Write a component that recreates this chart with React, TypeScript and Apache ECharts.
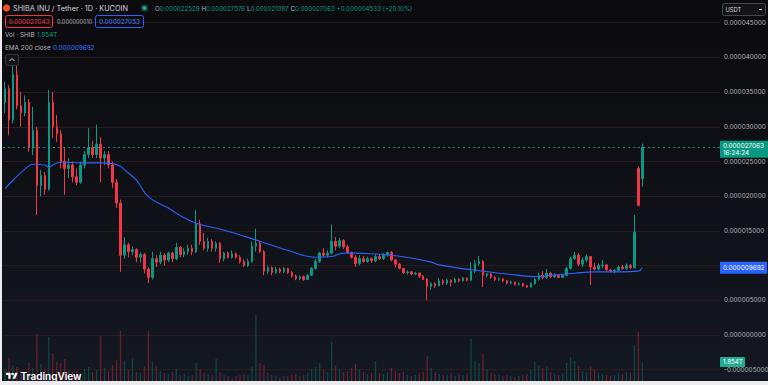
import React, { useEffect, useRef } from "react";
import * as echarts from "echarts";

// Prices are in micro-USDT (1e-6 USDT). Each candle: [open, close, low, high]
const candles: number[][] = [
  [33.5, 35.5, 32.0, 36.5], [35.5, 31.0, 28.8, 36.0], [31.0, 37.5, 30.5, 39.5], [37.5, 33.0, 32.5, 39.0],
  [33.0, 32.0, 30.0, 35.0], [32.0, 33.5, 31.5, 34.5], [33.5, 27.0, 26.4, 34.0], [27.0, 29.5, 25.9, 32.9],
  [29.5, 21.5, 17.3, 30.0], [21.5, 23.0, 20.0, 23.8], [23.0, 21.0, 20.2, 23.5], [21.0, 33.5, 20.8, 35.3],
  [33.5, 30.0, 28.4, 35.0], [30.0, 29.0, 27.8, 31.7], [29.0, 25.0, 24.0, 29.5], [25.0, 24.0, 20.2, 27.0],
  [24.0, 24.5, 22.6, 25.5], [24.5, 22.8, 22.0, 25.0], [22.8, 22.0, 21.6, 24.0], [22.0, 24.5, 21.8, 25.0],
  [24.5, 26.0, 24.0, 26.5], [26.0, 27.0, 25.5, 29.8], [27.0, 26.0, 25.5, 28.0], [26.0, 27.5, 25.5, 30.3],
  [27.5, 25.5, 22.0, 28.5], [25.5, 26.0, 24.5, 26.5], [26.0, 24.5, 24.0, 26.5], [24.5, 22.0, 21.2, 25.0],
  [22.0, 19.0, 18.3, 22.5], [19.0, 11.5, 9.1, 19.5], [11.5, 13.0, 11.0, 14.1], [13.0, 12.0, 11.2, 13.3],
  [12.0, 12.3, 11.5, 12.8], [12.3, 11.2, 10.5, 12.5], [11.2, 11.6, 10.4, 11.9], [11.6, 9.5, 8.9, 11.8],
  [9.5, 8.3, 7.5, 9.8], [8.3, 11.0, 8.0, 12.0], [11.0, 10.5, 9.8, 11.5], [10.5, 11.5, 10.2, 12.0],
  [11.5, 10.8, 10.0, 11.8], [10.8, 11.8, 10.5, 12.0], [11.8, 11.0, 10.5, 12.0], [11.0, 12.6, 10.8, 13.3],
  [12.6, 11.6, 11.2, 12.8], [11.6, 12.0, 11.2, 12.5], [12.0, 12.5, 11.6, 13.0], [12.5, 12.0, 11.5, 13.0],
  [12.0, 16.0, 11.8, 18.0], [16.0, 13.5, 13.0, 16.6], [13.5, 12.5, 12.2, 14.7], [12.5, 13.5, 12.0, 14.0],
  [13.5, 12.5, 12.0, 13.8], [12.5, 13.2, 12.0, 13.5], [13.2, 11.0, 10.4, 13.4], [11.0, 11.8, 10.6, 12.0],
  [11.8, 11.2, 11.0, 12.0], [11.2, 11.7, 11.0, 12.2], [11.7, 11.2, 11.0, 11.9], [11.2, 10.6, 10.3, 11.5],
  [10.6, 10.0, 9.8, 10.9], [10.0, 10.6, 9.8, 11.0], [10.6, 12.8, 10.4, 13.5], [12.8, 13.2, 12.0, 15.3],
  [13.2, 12.0, 11.8, 13.6], [12.0, 9.2, 8.6, 12.2], [9.2, 9.7, 8.8, 10.0], [9.7, 9.0, 8.6, 9.9],
  [9.0, 9.5, 8.8, 9.8], [9.5, 9.1, 8.9, 9.7], [9.1, 9.6, 8.9, 9.8], [9.6, 9.0, 8.8, 9.7],
  [9.0, 8.5, 8.3, 9.2], [8.5, 8.1, 7.9, 8.7], [8.1, 8.4, 7.9, 8.6], [8.4, 8.0, 7.8, 8.6],
  [8.0, 8.6, 7.9, 8.8], [8.6, 9.6, 8.5, 9.8], [9.6, 10.6, 9.4, 11.0], [10.6, 11.8, 10.4, 12.0],
  [11.8, 11.5, 11.2, 12.5], [11.5, 11.8, 11.2, 12.2], [11.8, 13.5, 11.6, 15.9], [13.5, 12.8, 12.2, 14.1],
  [12.8, 13.6, 12.5, 14.0], [13.6, 12.7, 12.4, 13.8], [12.7, 11.9, 11.8, 13.0], [11.9, 11.2, 11.0, 12.0],
  [11.2, 10.3, 9.8, 11.5], [10.3, 11.0, 10.0, 11.5], [11.0, 10.6, 10.4, 11.4], [10.6, 11.0, 10.4, 11.3],
  [11.0, 10.7, 10.4, 11.2], [10.7, 11.3, 10.5, 11.6], [11.3, 11.0, 10.8, 11.6], [11.0, 11.5, 10.8, 11.8],
  [11.5, 11.9, 11.3, 12.0], [11.9, 10.8, 10.6, 12.1], [10.8, 10.2, 9.7, 11.0], [10.2, 9.6, 9.5, 10.4],
  [9.6, 9.0, 8.8, 9.7], [9.0, 9.1, 8.7, 9.3], [9.1, 8.8, 8.6, 9.2], [8.8, 8.9, 8.6, 9.1],
  [8.9, 8.5, 8.2, 9.0], [8.5, 8.0, 7.9, 8.6], [8.0, 7.0, 5.0, 8.2], [7.0, 7.4, 6.5, 7.6],
  [7.4, 7.1, 6.8, 7.6], [7.1, 7.8, 7.0, 8.2], [7.8, 7.5, 7.2, 8.0], [7.5, 7.9, 7.2, 8.1],
  [7.9, 7.6, 7.0, 8.0], [7.6, 8.0, 7.5, 8.3], [8.0, 7.8, 7.6, 8.2], [7.8, 8.2, 7.7, 8.4],
  [8.2, 7.9, 7.7, 8.3], [7.9, 9.2, 7.8, 10.5], [9.2, 10.3, 8.9, 10.8], [10.3, 10.6, 10.0, 11.4],
  [10.6, 8.6, 6.9, 10.8], [8.6, 8.8, 8.3, 9.0], [8.8, 8.3, 8.1, 8.9], [8.3, 8.0, 7.8, 8.5],
  [8.0, 8.1, 7.8, 8.3], [8.1, 7.8, 7.6, 8.2], [7.8, 7.5, 7.3, 7.9], [7.5, 7.6, 7.3, 7.8],
  [7.6, 7.3, 7.1, 7.7], [7.3, 7.4, 7.1, 7.6], [7.4, 7.1, 6.9, 7.5], [7.1, 6.9, 6.8, 7.2],
  [6.9, 7.4, 6.8, 7.6], [7.4, 8.0, 7.2, 8.2], [8.0, 8.6, 7.8, 9.0], [8.6, 8.3, 8.0, 9.2],
  [8.3, 8.9, 8.1, 9.5], [8.9, 8.4, 8.2, 9.1], [8.4, 8.6, 8.2, 8.9], [8.6, 8.3, 8.2, 8.7],
  [8.3, 8.6, 8.2, 8.8], [8.6, 9.6, 8.5, 9.8], [9.6, 11.0, 9.4, 11.3], [11.0, 11.5, 10.8, 12.0],
  [11.5, 10.2, 9.9, 11.8], [10.2, 10.8, 9.8, 11.2], [10.8, 11.3, 10.5, 11.6], [11.3, 9.8, 7.2, 11.4],
  [9.8, 9.5, 9.3, 10.4], [9.5, 10.0, 9.3, 10.3], [10.0, 10.1, 9.6, 10.8], [10.1, 9.4, 9.2, 10.2],
  [9.4, 9.2, 9.0, 9.5], [9.2, 9.3, 8.9, 9.5], [9.3, 9.8, 9.2, 10.0], [9.8, 9.6, 9.4, 10.1],
  [9.6, 10.0, 9.4, 10.3], [10.0, 9.7, 9.5, 10.2], [9.7, 14.8, 9.6, 17.3], [24.0, 18.7, 18.5, 24.3],
  [22.529, 27.063, 21.387, 27.576],
];

// Volume in trillions of SHIB
const volumes: number[] = [
  1.2, 2.3, 1.6, 1.4, 1.0, 0.9, 1.8, 1.3, 4.7, 1.7, 1.2,
  4.4, 2.8, 1.9, 1.8, 2.2, 1.1, 0.9, 1.0, 0.8, 1.2,
  1.4, 0.9, 1.1, 4.5, 1.3, 1.0, 1.6, 2.1, 5.0, 2.0,
  1.1, 2.3, 0.9, 0.8, 1.5, 5.0, 1.9, 1.5, 1.0, 0.8,
  0.7, 0.9, 1.2, 0.6, 0.7, 0.5, 0.6, 1.8, 1.2, 0.8,
  0.7, 0.6, 2.2, 0.9, 0.6, 0.5, 0.4, 0.5, 0.6, 0.7,
  0.6, 1.5, 6.6, 1.8, 1.6, 0.8, 0.6, 0.5, 0.4, 0.5,
  0.5, 0.6, 0.7, 0.5, 0.6, 0.8, 1.2, 1.4, 1.8, 1.1,
  0.9, 3.9, 1.6, 1.2, 0.9, 1.0, 1.3, 1.7, 1.2, 0.9,
  0.7, 0.8, 2.0, 0.8, 0.7, 0.9, 1.3, 1.0, 0.8, 0.9,
  0.6, 0.5, 0.6, 0.8, 0.9, 2.5, 1.3, 0.9, 0.7, 0.6,
  0.6, 0.8, 0.5, 0.7, 0.6, 0.8, 4.2, 2.0, 1.8, 2.7,
  1.2, 0.8, 0.7, 0.6, 0.5, 0.6, 0.5, 0.4, 0.5, 0.6,
  0.7, 1.1, 1.9, 1.6, 1.3, 1.5, 0.9, 0.7, 0.6, 0.8,
  1.8, 2.4, 2.0, 1.5, 1.0, 0.9, 1.5, 1.1, 0.8, 0.7,
  0.6, 0.5, 0.6, 0.8, 0.7, 0.9, 0.8, 3.6, 4.9, 1.854,
];

// EMA 200 (close): [candle index, value in micro-USDT]
const emaPoints: number[][] = [
  [0, 21.1], [2, 22.3], [5, 23.9], [7, 24.6], [10, 24.5], [11, 24.1], [12, 24.5], [14, 24.9],
  [19, 24.8], [24, 24.8], [27, 24.7], [29, 24.3], [30, 23.8], [33, 22.3], [36, 19.9], [41, 18.3],
  [44, 17.2], [48, 16.1], [55, 15.1], [63, 13.7], [71, 12.2], [78, 11.2], [82, 11.3], [85, 11.8],
  [88, 11.8], [92, 11.7], [97, 11.5], [102, 11.1], [107, 10.5], [109, 10.1], [117, 9.4], [126, 8.8],
  [134, 8.4], [137, 8.6], [143, 8.9], [148, 9.1], [154, 9.1], [159, 9.2], [160, 9.692],
];

const TOTAL_SLOTS = 180; // candles plus empty right margin
const categories: string[] = Array.from({ length: TOTAL_SLOTS }, (_, i) => String(i));

const priceMin = -10;
const priceMax = 50;
const priceStep = 5;
const hiddenTicks = [priceMin, priceMax, 10]; // off-screen, or covered by the EMA tag
const volMax = 13.1;

const titleText = "SHIBA INU / Tether · 1D · KUCOIN";
const ohlcText = { o: "0.000022529", h: "0.000027576", l: "0.000021387", c: "0.000027063", chg: "+0.000004533 (+20.10%)" };
const bidText = "0.000027043";
const spreadText = "0.000000010";
const askText = "0.000027053";
const volText = "1.854T";
const emaText = "0.000009692";
const countdownText = "16:24:24";

const UP = "#089981";
const DOWN = "#f23645";
const BLUE = "#2962ff";
const GRAY = "#b2b5be";
const FONT = "Inter, 'Noto Sans', sans-serif";

const fmt = (v: number) => (v / 1e6).toFixed(9);

let logoRegistered = false;
function registerLogo() {
  if (logoRegistered) return;
  const d = "M14 22H7V11H0V4h14v18zM28 22h-8l7.5-18h8L28 22zM24 8a4 4 0 1 1-8 0a4 4 0 1 1 8 0z";
  echarts.graphic.registerShape("tvlogo", echarts.graphic.extendPath(d, {}) as any);
  logoRegistered = true;
}

export default function App() {
  const ref = useRef<HTMLDivElement>(null);

  useEffect(() => {
    registerLogo();
    const chart = echarts.init(ref.current!, null, { renderer: "svg" });
    const last = candles[candles.length - 1];
    const lastClose = last[1];
    const lastEma = emaPoints[emaPoints.length - 1][1];
    const lastVol = volumes[volumes.length - 1];

    chart.setOption({
      animation: false,
      backgroundColor: "transparent",
      grid: [
        { left: 1, right: 48, top: -12, height: 416.4, outerBoundsMode: "none", containLabel: false },
        { left: 1, right: 48, top: 250, height: 131, outerBoundsMode: "none", containLabel: false },
      ],
      xAxis: [
        { type: "category", data: categories, gridIndex: 0, boundaryGap: true, show: false },
        { type: "category", data: categories, gridIndex: 1, boundaryGap: true, show: false },
      ],
      yAxis: [
        {
          type: "value", gridIndex: 0, position: "right", min: priceMin, max: priceMax, interval: priceStep,
          axisLine: { show: false }, axisTick: { show: false },
          splitLine: { show: true, lineStyle: { color: "#2a1b20", width: 1 } },
          axisLabel: {
            color: GRAY, fontSize: 6.4, fontFamily: FONT, margin: 4,
            formatter: (v: number) => (hiddenTicks.includes(v) ? "" : fmt(v)),
          },
        },
        { type: "value", gridIndex: 1, min: 0, max: volMax, show: false, splitLine: { show: false } },
      ],
      series: [
        {
          type: "bar", xAxisIndex: 1, yAxisIndex: 1, barWidth: 1.3, silent: true,
          data: volumes.map((v, i) => ({
            value: v,
            itemStyle: { color: candles[i][1] >= candles[i][0] ? "rgba(8,153,129,0.36)" : "rgba(242,54,69,0.36)" },
          })),
        },
        {
          type: "candlestick", xAxisIndex: 0, yAxisIndex: 0, data: candles, barWidth: 2,
          itemStyle: { color: UP, color0: DOWN, borderColor: UP, borderColor0: DOWN, borderWidth: 1 },
          markLine: {
            silent: true, symbol: ["none", "none"], label: { show: false },
            lineStyle: { color: "#12a58a", type: [2, 3], width: 1, opacity: 0.9 },
            data: [{ yAxis: lastClose }],
          },
        },
        {
          type: "line", xAxisIndex: 0, yAxisIndex: 0, data: emaPoints, smooth: 0.4, showSymbol: false, silent: true,
          lineStyle: { color: BLUE, width: 1.1 }, z: 5,
        },
      ],
    });

    const yLast = chart.convertToPixel({ yAxisIndex: 0 }, lastClose) as number;
    const yEma = chart.convertToPixel({ yAxisIndex: 0 }, lastEma) as number;
    const yVol = chart.convertToPixel({ yAxisIndex: 1 }, lastVol) as number;

    const t = (x: number, y: number, text: string, fill: string, fontSize: number, extra: any = {}) => ({
      type: "text", x, y, z: 100,
      style: { text, fill, fontSize, fontFamily: FONT, verticalAlign: "middle", align: "left", ...extra },
    });

    const graphic: any[] = [
      // header row 1
      { type: "circle", z: 100, shape: { cx: 4.5, cy: 8, r: 3.6 }, style: { fill: "#f0501f" } },
      t(11, 8.5, titleText, "#d1d4dc", 7.3),
      { type: "rect", z: 100, shape: { x: 139, y: 4.5, width: 7, height: 7, r: 2 }, style: { fill: "#1c3a34" } },
      { type: "circle", z: 101, shape: { cx: 142.5, cy: 8, r: 2 }, style: { fill: "#22ab94" } },
      {
        type: "text", x: 153, y: 8.5, z: 100,
        style: {
          text: `{l|O}{v|${ohlcText.o}} {l|H}{v|${ohlcText.h}} {l|L}{v|${ohlcText.l}} {l|C}{v|${ohlcText.c}} {v|${ohlcText.chg}}`,
          fontSize: 6.2, fontFamily: FONT, verticalAlign: "middle",
          rich: {
            l: { fill: GRAY, color: GRAY, fontSize: 6.2, fontFamily: FONT },
            v: { fill: UP, color: UP, fontSize: 6.2, fontFamily: FONT },
          },
        },
      },
      // header row 2
      { type: "rect", z: 100, shape: { x: 3.5, y: 15.5, width: 47, height: 12, r: 2 }, style: { fill: "rgba(0,0,0,0)", stroke: DOWN, lineWidth: 1 } },
      t(27, 21.7, bidText, DOWN, 6.4, { align: "center" }),
      t(55, 21.7, spreadText, GRAY, 5.6),
      { type: "rect", z: 100, shape: { x: 93.5, y: 15.5, width: 48, height: 12, r: 2 }, style: { fill: "rgba(0,0,0,0)", stroke: BLUE, lineWidth: 1 } },
      t(117.5, 21.7, askText, "#4a7dff", 6.4, { align: "center" }),
      // legends
      t(3, 34.5, "Vol · SHIB", GRAY, 6.4),
      t(35, 34.5, volText, UP, 6.4),
      t(3, 47.5, "EMA 200 close", GRAY, 6.4),
      t(51, 47.5, emaText, "#3f72ff", 6.4),
      { type: "rect", z: 100, shape: { x: 3.5, y: 54.5, width: 13, height: 11, r: 2 }, style: { fill: "#131318", stroke: "#363a45", lineWidth: 1 } },
      { type: "polyline", z: 101, shape: { points: [[7.5, 61], [10, 58.5], [12.5, 61]] }, style: { stroke: "#d1d4dc", lineWidth: 1, fill: "none" } },
      // currency selector
      { type: "rect", z: 100, shape: { x: 720.5, y: 3.5, width: 43, height: 12, r: 2 }, style: { fill: "#141418", stroke: "#434651", lineWidth: 1 } },
      t(723.5, 9.8, "USDT", "#d1d4dc", 5.8),
      { type: "line", z: 101, shape: { x1: 757, y1: 9.5, x2: 760, y2: 9.5 }, style: { stroke: "#d1d4dc", lineWidth: 1 } },
      // last price tag
      { type: "rect", z: 100, shape: { x: 718, y: yLast - 6.5, width: 48, height: 17 }, style: { fill: UP } },
      t(721, yLast - 1, fmt(lastClose), "#ffffff", 6.4),
      t(721, yLast + 5.6, countdownText, "#ffffff", 6.4),
      // EMA tag
      { type: "rect", z: 100, shape: { x: 718, y: yEma - 6, width: 47, height: 12 }, style: { fill: BLUE } },
      t(721, yEma + 0.3, fmt(lastEma), "#ffffff", 6.4),
      // volume tag
      { type: "rect", z: 100, shape: { x: 718, y: yVol - 5.5, width: 25, height: 10, r: 1 }, style: { fill: "#22ab94" } },
      t(721, yVol - 0.6, volText, "#ffffff", 6.2),
      // TradingView logo
      { type: "tvlogo", z: 100, x: 4, y: 371.4, scaleX: 0.33, scaleY: 0.33, style: { fill: "#ffffff" } },
      t(18.5, 376, "TradingView", "#ffffff", 10, { fontWeight: 600 }),
    ];

    chart.setOption({ graphic });

    return () => chart.dispose();
  }, []);

  return (
    <div style={{ position: "fixed", left: 0, top: 0, width: 768, height: 385, background: "#ececee" }}>
      <div
        ref={ref}
        style={{
          position: "absolute", left: 2, top: 0, width: 766, height: 381,
          background: "linear-gradient(180deg, #0b0b0e 0%, #0f1016 45%, #141822 100%)",
        }}
      />
    </div>
  );
}
